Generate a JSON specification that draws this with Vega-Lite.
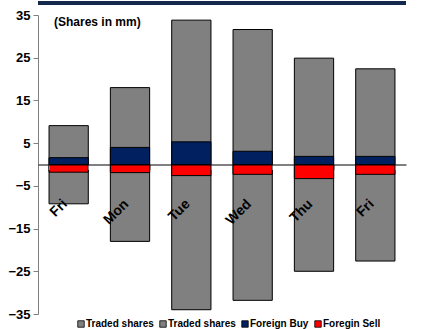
{
  "$schema": "https://vega.github.io/schema/vega-lite/v6.json",
  "autosize": {"type": "none"},
  "padding": {"left": 38, "top": 15, "right": 26, "bottom": 15},
  "width": 368,
  "height": 299,
  "background": "white",
  "title": {
    "text": "(Shares in mm)",
    "anchor": "start",
    "frame": "group",
    "font": "Liberation Sans",
    "fontSize": 12,
    "fontWeight": "bold",
    "color": "#000000",
    "baseline": "top",
    "offset": 0,
    "dx": 16,
    "dy": 28
  },
  "data": {
    "values": [
      {"day": "Fri", "series": "Traded shares", "value": 9.1},
      {"day": "Mon", "series": "Traded shares", "value": 18.0},
      {"day": "Tue", "series": "Traded shares", "value": 33.8},
      {"day": "Wed", "series": "Traded shares", "value": 31.6},
      {"day": "Thu", "series": "Traded shares", "value": 24.9},
      {"day": "Fri ", "series": "Traded shares", "value": 22.4},
      {"day": "Fri", "series": "Traded shares ", "value": -9.2},
      {"day": "Mon", "series": "Traded shares ", "value": -18.0},
      {"day": "Tue", "series": "Traded shares ", "value": -34.0},
      {"day": "Wed", "series": "Traded shares ", "value": -31.8},
      {"day": "Thu", "series": "Traded shares ", "value": -25.0},
      {"day": "Fri ", "series": "Traded shares ", "value": -22.6},
      {"day": "Fri", "series": "Foreign Buy", "value": 1.6},
      {"day": "Mon", "series": "Foreign Buy", "value": 4.0},
      {"day": "Tue", "series": "Foreign Buy", "value": 5.3},
      {"day": "Wed", "series": "Foreign Buy", "value": 3.1},
      {"day": "Thu", "series": "Foreign Buy", "value": 1.9},
      {"day": "Fri ", "series": "Foreign Buy", "value": 1.9},
      {"day": "Fri", "series": "Foregin Sell", "value": -1.8},
      {"day": "Mon", "series": "Foregin Sell", "value": -1.9},
      {"day": "Tue", "series": "Foregin Sell", "value": -2.6},
      {"day": "Wed", "series": "Foregin Sell", "value": -2.3},
      {"day": "Thu", "series": "Foregin Sell", "value": -3.3},
      {"day": "Fri ", "series": "Foregin Sell", "value": -2.3}
    ]
  },
  "layer": [
    {
      "mark": {"type": "bar", "stroke": "#000000", "strokeWidth": 1},
      "encoding": {
        "x": {
          "field": "day",
          "type": "nominal",
          "sort": null,
          "scale": {"paddingInner": 0.36, "paddingOuter": 0.18},
          "axis": {
            "title": null,
            "orient": "bottom",
            "offset": -149.5,
            "zindex": 1,
            "domainColor": "#000000",
            "domainWidth": 1,
            "tickColor": "#808080",
            "tickSize": 5,
            "tickBand": "extent",
            "labelAngle": -45,
            "labelAlign": "right",
            "labelBaseline": "middle",
            "labelPadding": 32,
            "labelOffset": -4,
            "labelFont": "Liberation Sans",
            "labelFontSize": 14,
            "labelFontWeight": "bold",
            "labelColor": "#000000",
            "labelExpr": "trim(datum.label)"
          }
        },
        "y": {
          "field": "value",
          "type": "quantitative",
          "stack": null,
          "scale": {"domain": [-35, 35], "nice": false, "zero": false},
          "axis": {
            "title": null,
            "values": [35, 25, 15, 5, -5, -15, -25, -35],
            "grid": false,
            "domainColor": "#808080",
            "tickColor": "#808080",
            "tickSize": 5,
            "labelPadding": 3,
            "labelFont": "Liberation Sans",
            "labelFontSize": 13,
            "labelFontWeight": "bold",
            "labelColor": "#000000"
          }
        },
        "color": {
          "field": "series",
          "type": "nominal",
          "sort": null,
          "scale": {
            "domain": ["Traded shares", "Traded shares ", "Foreign Buy", "Foregin Sell"],
            "range": ["#808080", "#808080", "#002060", "#FF0000"]
          },
          "legend": {
            "title": null,
            "orient": "none",
            "legendX": 38,
            "legendY": 304,
            "direction": "horizontal",
            "symbolType": "square",
            "symbolSize": 42,
            "symbolStrokeColor": "#000000",
            "symbolStrokeWidth": 0.8,
            "labelFont": "Liberation Sans",
            "labelFontSize": 10,
            "labelFontWeight": "bold",
            "labelColor": "#000000",
            "labelOffset": 0,
            "columnPadding": 4,
            "labelExpr": "trim(datum.label)"
          }
        }
      }
    },
    {
      "mark": {"type": "rule", "color": "#14284b", "strokeWidth": 3},
      "encoding": {"y": {"datum": 37.85}}
    }
  ],
  "config": {"view": {"stroke": null}}
}
